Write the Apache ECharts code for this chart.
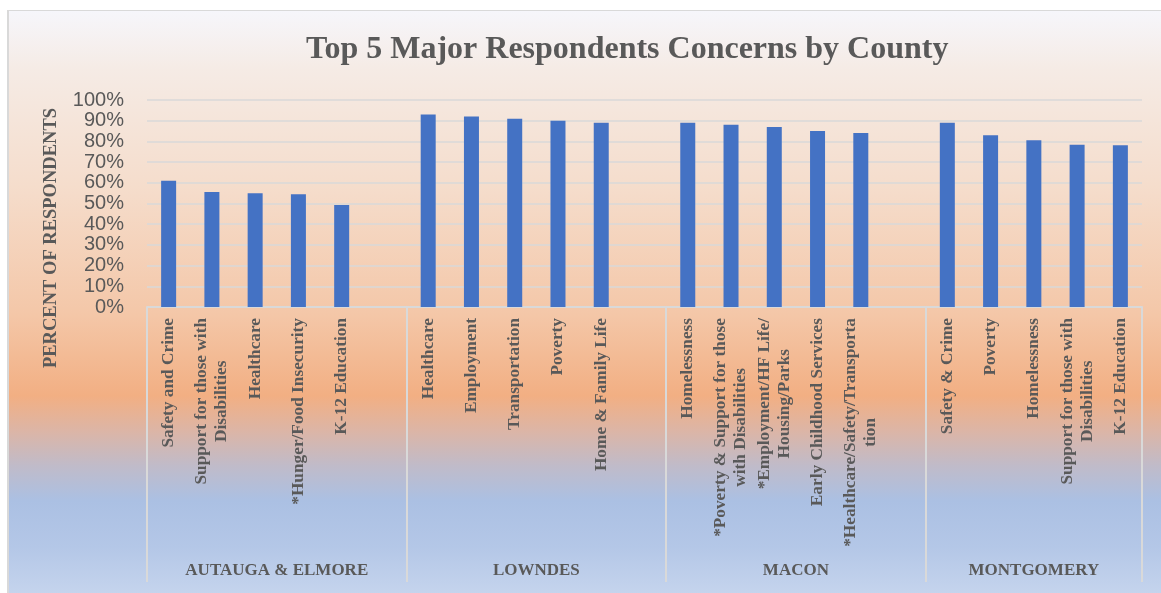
<!DOCTYPE html>
<html>
<head>
<meta charset="utf-8">
<script src="https://cdn.jsdelivr.net/npm/echarts@6/dist/echarts.min.js"></script>
<style>
  html, body { margin: 0; padding: 0; background: #ffffff; }
  #frame {
    position: absolute; left: 7px; top: 10px; width: 1154px; height: 583px;
    border-left: 2px solid #d9d9d9; border-top: 1px solid #d9d9d9;
    background: linear-gradient(to bottom,
      #f6f6fb 0%, #f5ebe5 10%, #f5ddcc 30%, #f4c7a8 52%, #f2af83 66%,
      #dcb5a6 72%, #c0bbc9 78%, #abc0e3 84%, #b4c7e7 92%, #c5d4ed 100%);
  }
  #chart { position: absolute; left: 0; top: 0; width: 1161px; height: 593px; }
</style>
</head>
<body>
<div id="frame"></div>
<div id="chart"></div>
<script>
// County groups and their top five concerns (percent of respondents)
const counties = ['AUTAUGA & ELMORE', 'LOWNDES', 'MACON', 'MONTGOMERY'];

const autaugaConcerns = ['Safety and Crime', 'Support for those with\nDisabilities', 'Healthcare', '*Hunger/Food Insecurity', 'K-12 Education'];
const autaugaValues = [61, 55.6, 55, 54.5, 49.3];

const lowndesConcerns = ['Healthcare', 'Employment', 'Transportation', 'Poverty', 'Home & Family Life'];
const lowndesValues = [93, 92, 91, 90, 89];

const maconConcerns = ['Homelessness', '*Poverty & Support for those\nwith Disabilities', '*Employment/HF Life/\nHousing/Parks', 'Early Childhood Services', '*Healthcare/Safety/Transporta\ntion'];
const maconValues = [89, 88, 87, 85, 84];

const montgomeryConcerns = ['Safety & Crime', 'Poverty', 'Homelessness', 'Support for those with\nDisabilities', 'K-12 Education'];
const montgomeryValues = [89, 83, 80.6, 78.4, 78.1];

const yTicks = [0, 10, 20, 30, 40, 50, 60, 70, 80, 90, 100];

// Flatten the groups into one category axis, with an empty slot after each group
const groups = [
  [autaugaConcerns, autaugaValues],
  [lowndesConcerns, lowndesValues],
  [maconConcerns, maconValues],
  [montgomeryConcerns, montgomeryValues]
];
const categories = [];
const values = [];
const boundaries = [0];
const groupCenters = [];
groups.forEach(function (g, i) {
  const start = categories.length;
  g[0].forEach(function (c, j) { categories.push(c); values.push(g[1][j]); });
  if (i < groups.length - 1) { categories.push(''); values.push(null); }
  const end = categories.length;
  boundaries.push(end);
  groupCenters.push((start + end) / 2);
});
const slotCount = categories.length;

const grey = '#595959';
const serif = '"Liberation Serif", "Times New Roman", serif';

const chart = echarts.init(document.getElementById('chart'), null, { renderer: 'canvas' });
chart.setOption({
  backgroundColor: 'transparent',
  animation: false,
  title: {
    text: 'Top 5 Major Respondents Concerns by County',
    left: 301, top: 29,
    textStyle: { fontFamily: serif, fontWeight: 'bold', fontSize: 32, color: grey }
  },
  graphic: [{
    type: 'text',
    x: 51, y: 238,
    rotation: Math.PI / 2,
    style: {
      text: 'PERCENT OF RESPONDENTS',
      fontFamily: serif, fontWeight: 'bold', fontSize: 18.5, fill: grey,
      align: 'center', verticalAlign: 'middle'
    }
  }],
  grid: { left: 147, right: 19, top: 100, bottom: 286, containLabel: false },
  xAxis: [{
    type: 'category',
    position: 'bottom',
    data: categories,
    axisLine: { show: true, lineStyle: { color: '#d9d9d9', width: 2 } },
    axisTick: { show: false },
    axisLabel: {
      interval: 0, rotate: 90, margin: 11,
      formatter: function (v) {
        return v.split('\n').map(function (l) { return '{c|' + l + '}'; }).join('\n');
      },
      rich: {
        c: { align: 'center', fontFamily: serif, fontWeight: 'bold', fontSize: 17.3, color: grey, lineHeight: 20 }
      }
    }
  }, {
    type: 'value',
    position: 'bottom',
    min: 0, max: slotCount,
    axisLine: { show: false },
    splitLine: { show: false },
    axisTick: {
      show: true, customValues: boundaries, length: 275,
      lineStyle: { color: '#d9d9d9', width: 2 }
    },
    axisLabel: {
      show: true, customValues: groupCenters, margin: 255,
      formatter: function (v) { return counties[groupCenters.indexOf(v)] || ''; },
      fontFamily: serif, fontWeight: 'bold', fontSize: 17, color: grey
    }
  }],
  yAxis: {
    type: 'value',
    min: yTicks[0], max: yTicks[yTicks.length - 1], interval: 10,
    axisLine: { show: false },
    axisTick: { show: false },
    splitLine: { show: true, lineStyle: { color: '#d9d9d9', width: 1.5 } },
    axisLabel: {
      margin: 23, formatter: '{value}%',
      fontFamily: '"Liberation Sans", Arial, sans-serif', fontSize: 20, color: grey
    }
  },
  series: [{
    type: 'bar',
    xAxisIndex: 0,
    data: values,
    barWidth: 15,
    itemStyle: { color: '#4472c4' }
  }]
});
</script>
</body>
</html>
